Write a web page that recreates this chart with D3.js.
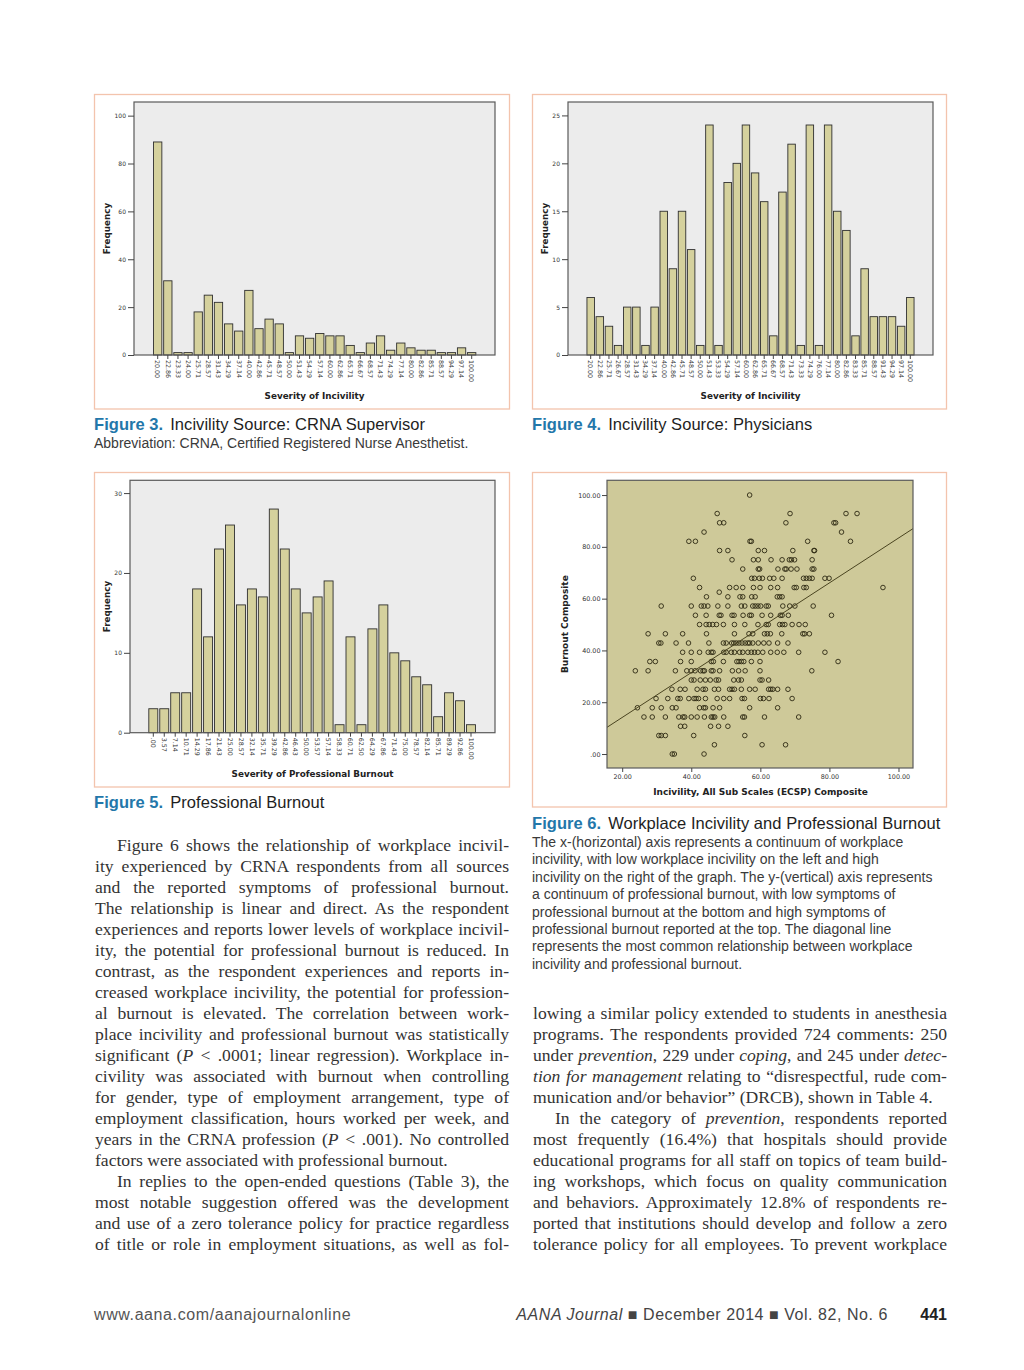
<!DOCTYPE html>
<html><head><meta charset="utf-8">
<script src="https://cdn.jsdelivr.net/npm/d3@7"></script>
<style>
body{margin:0;background:#fff;}
#page{position:relative;width:1024px;height:1370px;overflow:hidden;background:#fff;}
#page svg{position:absolute;left:0;top:0;}
.ln{position:absolute;font-family:"Liberation Serif","DejaVu Serif",serif;font-size:17.6px;line-height:21px;color:#333;text-align:justify;text-align-last:justify;}
.ln.last{text-align-last:left;}
</style></head>
<body><div id="page"></div>
<script>
// ---------------- DATA ----------------
const fig3Categories = ["20.00","22.86","23.33","24.00","25.71","28.57","31.43","34.29","37.14","40.00","42.86","45.71","48.57","50.00","51.43","54.29","57.14","60.00","62.86","65.71","66.67","68.57","71.43","74.29","77.14","80.00","82.86","85.71","88.57","94.29","97.14","100.00"];
const fig3Frequency = [89,31,1,1,18,25,22,13,10,27,11,15,13,1,8,7,9,8,8,4,1,5,8,2,5,3,2,2,1,1,3,1];
const fig3YTicks = [0,20,40,60,80,100];

const fig4Categories = ["20.00","22.86","25.71","26.67","28.57","31.43","34.29","37.14","40.00","42.86","45.71","48.57","50.00","51.43","53.33","54.29","57.14","60.00","62.86","65.71","66.67","68.57","71.43","73.33","74.29","76.00","77.14","80.00","82.86","83.33","85.71","88.57","91.43","94.29","97.14","100.00"];
const fig4Frequency = [6,4,3,1,5,5,1,5,15,9,15,11,1,24,1,18,20,24,19,16,2,17,22,1,24,1,24,15,13,2,9,4,4,4,3,6];
const fig4YTicks = [0,5,10,15,20,25];

const fig5Categories = [".00","3.57","7.14","10.71","14.29","17.86","21.43","25.00","28.57","32.14","35.71","39.29","42.86","46.43","50.00","53.57","57.14","58.33","60.71","62.50","64.29","67.86","71.43","75.00","78.57","82.14","85.71","89.29","92.86","100.00"];
const fig5Frequency = [3,3,5,5,18,12,23,26,16,18,17,28,23,18,15,17,19,1,12,1,13,16,10,9,7,6,2,5,4,1];
const fig5YTicks = [0,10,20,30];

// Figure 6 scatter: burnout composite levels and incivility composite values at each level
const burnoutLevels = [100,92.86,89.29,85.71,82.14,78.57,75,71.43,67.86,64.29,62.5,60.71,57.14,53.57,50,46.43,42.86,39.29,35.71,32.14,28.57,25,21.43,17.86,14.29,10.71,7.14,3.57,0];
const incivilityAtLevel = [
 [56.9],
 [47.5,68.6,84.8,88.0],
 [48.2,49.4,67.4,81.3,81.8],
 [43.7,83.5],
 [39.3,41.2,57.0,57.4,73.7,86.1],
 [48.2,50.6,59.4,61.2,69.4,75.5,75.7],
 [51.8,58.0,59.4,63.1,66.3,68.4,69.0,69.9,75.0],
 [54.9,59.4,59.8,65.1,67.1,67.5,68.9,70.6,75.0,75.5],
 [40.6,57.5,58.3,59.7,60.6,62.7,63.9,66.3,72.5,73.3,74.2,75.0,78.7,79.9],
 [42.4,51.1,53.0,54.9,58.0,59.9,63.0,65.0,69.8,70.4,72.6,73.3,95.5],
 [48.1],
 [44.4,50.6,54.1,54.9,57.5,58.5,64.9,65.6,66.3],
 [31.3,40.0,42.9,43.7,44.8,47.7,50.6,54.5,55.5,57.8,58.5,59.3,60.1,61.7,62.3,66.5,68.5,70.0,75.3],
 [41.2,44.3,48.1,48.6,51.8,52.4,55.0,56.9,57.4,60.5,63.0,65.8,66.3,68.1,80.6],
 [42.4,44.3,45.2,46.2,47.3,49.3,52.5,55.5,59.3,61.7,62.3,65.6,66.4,67.1,69.2,71.2,73.0],
 [27.5,32.5,37.5,44.4,52.5,56.7,57.8,61.2,62.0,62.9,66.2,72.3,72.8,74.2],
 [30.6,31.2,35.6,39.2,45.1,49.3,50.1,51.7,52.3,53.0,53.8,54.7,55.6,56.4,56.9,57.8,59.4,61.0,62.5,65.0,68.0],
 [37.5,40.0,42.4,44.9,45.8,46.3,49.4,50.1,51.6,52.5,54.0,54.9,56.4,57.4,58.3,59.3,60.7,63.0,64.9,66.8,71.1,78.7],
 [28.0,29.6,36.9,40.0,45.8,46.4,49.3,53.2,53.8,54.5,55.2,57.4,59.9,82.5],
 [23.8,27.5,35.4,38.7,40.0,41.1,42.7,43.4,43.8,45.8,46.3,48.2,51.9,53.7,55.6,59.9,74.9],
 [40.0,40.8,42.6,44.1,45.5,47.2,47.9,52.3,53.7,54.5,59.9,60.5,62.4],
 [34.4,36.8,38.2,41.7,43.4,44.1,46.7,47.9,51.1,51.8,52.5,54.5,56.9,58.5,62.4,63.0,63.6,65.0,68.0],
 [29.8,33.2,36.1,36.8,39.3,40.8,41.4,42.1,44.1,47.5,49.4,51.1,54.7,55.4,60.0,60.9,62.5,69.2],
 [24.4,28.7,31.3,34.5,35.6,42.4,43.6,44.1,46.3,48.2,56.9,65.0],
 [26.3,28.7,32.5,36.4,37.6,38.1,40.0,41.7,43.8,45.8,46.3,46.8,49.4,54.9,55.4,61.2,71.1],
 [36.9,38.1,45.6,47.9,50.6],
 [30.6,31.3,32.5,40.7,55.5],
 [46.7,60.5,67.3],
 [34.5,35.1,43.7]
];
const regressionIntercept = -3.2;
const regressionSlope = 0.866;
const fig6XTicks = [20,40,60,80,100];
const fig6YTicks = [0,20,40,60,80,100];

const leftColumnLines = [
 "Figure 6 shows the relationship of workplace incivil-",
 "ity experienced by CRNA respondents from all sources",
 "and the reported symptoms of professional burnout.",
 "The relationship is linear and direct. As the respondent",
 "experiences and reports lower levels of workplace incivil-",
 "ity, the potential for professional burnout is reduced. In",
 "contrast, as the respondent experiences and reports in-",
 "creased workplace incivility, the potential for profession-",
 "al burnout is elevated. The correlation between work-",
 "place incivility and professional burnout was statistically",
 "significant (<i>P</i> &lt; .0001; linear regression). Workplace in-",
 "civility was associated with burnout when controlling",
 "for gender, type of employment arrangement, type of",
 "employment classification, hours worked per week, and",
 "years in the CRNA profession (<i>P</i> &lt; .001). No controlled",
 "factors were associated with professional burnout.",
 "In replies to the open-ended questions (Table 3), the",
 "most notable suggestion offered was the development",
 "and use of a zero tolerance policy for practice regardless",
 "of title or role in employment situations, as well as fol-"
];
const leftIndent = [0,16];
const leftLast = [15];
const rightColumnLines = [
 "lowing a similar policy extended to students in anesthesia",
 "programs. The respondents provided 724 comments: 250",
 "under <i>prevention</i>, 229 under <i>coping</i>, and 245 under <i>detec-</i>",
 "<i>tion for management</i> relating to “disrespectful, rude com-",
 "munication and/or behavior” (DRCB), shown in Table 4.",
 "In the category of <i>prevention</i>, respondents reported",
 "most frequently (16.4%) that hospitals should provide",
 "educational programs for all staff on topics of team build-",
 "ing workshops, which focus on quality communication",
 "and behaviors. Approximately 12.8% of respondents re-",
 "ported that institutions should develop and follow a zero",
 "tolerance policy for all employees. To prevent workplace"
];
const rightIndent = [5];
const rightLast = [4];
const fig6CaptionLines = [
 "The x-(horizontal) axis represents a continuum of workplace",
 "incivility, with low workplace incivility on the left and high",
 "incivility on the right of the graph. The y-(vertical) axis represents",
 "a continuum of professional burnout, with low symptoms of",
 "professional burnout at the bottom and high symptoms of",
 "professional burnout reported at the top. The diagonal line",
 "represents the most common relationship between workplace",
 "incivility and professional burnout."
];

// ---------------- DRAW ----------------
const page = d3.select("#page");
const svg = page.append("svg").attr("width",1024).attr("height",1370);
const BORDER="#f3c4ad", TEAL="#2377aa";
const chartFont = "'DejaVu Sans',Verdana,sans-serif";
const sans = "'Liberation Sans',Arial,sans-serif";

function panel(x0,y0,x1,y1){
  svg.append("rect").attr("x",x0).attr("y",y0).attr("width",x1-x0).attr("height",y1-y0)
    .attr("fill","none").attr("stroke",BORDER).attr("stroke-width",1.3);
}

function barChart(cfg){
  const g = svg.append("g");
  const p = cfg.plot;
  g.append("rect").attr("x",p.l).attr("y",p.t).attr("width",p.r-p.l).attr("height",p.b-p.t)
    .attr("fill","#ececec");
  const n = cfg.cats.length;
  const step = (cfg.last-cfg.first)/(n-1);
  const pad = 0.18;
  const x = d3.scaleBand().domain(cfg.cats).range([cfg.first-step/2, cfg.last+step/2])
    .paddingInner(pad).paddingOuter(pad/2);
  const y = d3.scaleLinear().domain([0,cfg.ymax]).range([p.b,p.t]);
  g.selectAll("rect.bar").data(cfg.vals).join("rect").attr("class","bar")
    .attr("x",(d,i)=>x(cfg.cats[i])).attr("width",x.bandwidth())
    .attr("y",d=>y(d)).attr("height",d=>y(0)-y(d))
    .attr("fill","#d5d19d").attr("stroke","#2f2f2f").attr("stroke-width",0.9);
  g.append("rect").attr("x",p.l).attr("y",p.t).attr("width",p.r-p.l).attr("height",p.b-p.t)
    .attr("fill","none").attr("stroke","#5a5a5a").attr("stroke-width",1.2);
  const ya = g.append("g").attr("transform",`translate(${p.l},0)`)
    .call(d3.axisLeft(y).tickValues(cfg.yTicks).tickSize(6).tickPadding(2));
  ya.select(".domain").remove();
  ya.selectAll("line").attr("stroke","#444");
  ya.selectAll("text").attr("font-family",chartFont).attr("font-size",6).attr("fill","#333");
  const xa = g.append("g").attr("transform",`translate(0,${p.b})`)
    .call(d3.axisBottom(x).tickSize(4).tickSizeOuter(0));
  xa.select(".domain").remove();
  xa.selectAll("line").attr("stroke","#444");
  xa.selectAll("text").attr("font-family",chartFont).attr("font-size",6.3).attr("fill","#333")
    .attr("transform","rotate(90)").attr("text-anchor","start")
    .attr("x",5).attr("y",0).attr("dy","0.35em");
  g.append("text").attr("x",(p.l+p.r)/2).attr("y",cfg.xTitleY).attr("text-anchor","middle")
    .attr("font-family",chartFont).attr("font-weight","bold").attr("font-size",8.8).attr("fill","#222")
    .text(cfg.xTitle);
  g.append("text").attr("transform",`translate(${cfg.yTitleX},${(p.t+p.b)/2}) rotate(-90)`)
    .attr("text-anchor","middle").attr("dominant-baseline","central")
    .attr("font-family",chartFont).attr("font-weight","bold").attr("font-size",8.8).attr("fill","#222")
    .text("Frequency");
}

panel(94.5,94.5,509.5,409);
barChart({plot:{l:134,t:102,r:495,b:355},cats:fig3Categories,vals:fig3Frequency,ymax:105.7,
  yTicks:fig3YTicks,first:157.7,last:471.7,xTitle:"Severity of Incivility",xTitleY:399,yTitleX:106.7});
panel(532.5,94.5,946.5,409);
barChart({plot:{l:568,t:102,r:933,b:355},cats:fig4Categories,vals:fig4Frequency,ymax:26.4,
  yTicks:fig4YTicks,first:590.7,last:910.3,xTitle:"Severity of Incivility",xTitleY:399,yTitleX:544.7});
panel(94.5,472.5,509.5,787);
barChart({plot:{l:130,t:480.3,r:495,b:732.7},cats:fig5Categories,vals:fig5Frequency,ymax:31.6,
  yTicks:fig5YTicks,first:153.3,last:471,xTitle:"Severity of Professional Burnout",xTitleY:776.5,yTitleX:106.7});

// Figure 6 scatter
panel(532.5,472.5,946.5,807);
(function(){
  const p = {l:607,t:480.3,r:913,b:768};
  const g = svg.append("g");
  const x = d3.scaleLinear().domain([15.6,104.2]).range([p.l,p.r]);
  const y = d3.scaleLinear().domain([-5.4,105.7]).range([p.b,p.t]);
  g.append("rect").attr("x",p.l).attr("y",p.t).attr("width",p.r-p.l).attr("height",p.b-p.t)
    .attr("fill","#cec999");
  const pts = [];
  burnoutLevels.forEach((b,i)=>incivilityAtLevel[i].forEach(v=>pts.push([v,b])));
  g.selectAll("circle").data(pts).join("circle")
    .attr("cx",d=>x(d[0])).attr("cy",d=>y(d[1])).attr("r",2.3)
    .attr("fill","none").attr("stroke","#2c2812").attr("stroke-width",0.9);
  const dom = x.domain();
  g.append("line").attr("x1",x(dom[0])).attr("y1",y(regressionIntercept+regressionSlope*dom[0]))
    .attr("x2",x(dom[1])).attr("y2",y(regressionIntercept+regressionSlope*dom[1]))
    .attr("stroke","#4a4420").attr("stroke-width",1);
  g.append("rect").attr("x",p.l).attr("y",p.t).attr("width",p.r-p.l).attr("height",p.b-p.t)
    .attr("fill","none").attr("stroke","#5a5a5a").attr("stroke-width",1.2);
  const fmt = v => v===0 ? ".00" : v.toFixed(2);
  const ya = g.append("g").attr("transform",`translate(${p.l},0)`)
    .call(d3.axisLeft(y).tickValues(fig6YTicks).tickFormat(fmt).tickSize(5).tickPadding(1.5));
  ya.select(".domain").remove();
  ya.selectAll("line").attr("stroke","#444");
  ya.selectAll("text").attr("font-family",chartFont).attr("font-size",6.4).attr("fill","#333");
  const xa = g.append("g").attr("transform",`translate(0,${p.b})`)
    .call(d3.axisBottom(x).tickValues(fig6XTicks).tickFormat(fmt).tickSize(4).tickPadding(2));
  xa.select(".domain").remove();
  xa.selectAll("line").attr("stroke","#444");
  xa.selectAll("text").attr("font-family",chartFont).attr("font-size",6.4).attr("fill","#333");
  g.append("text").attr("x",760.5).attr("y",795).attr("text-anchor","middle")
    .attr("font-family",chartFont).attr("font-weight","bold").attr("font-size",9).attr("fill","#222")
    .text("Incivility, All Sub Scales (ECSP) Composite");
  g.append("text").attr("transform",`translate(565,${(p.t+p.b)/2}) rotate(-90)`)
    .attr("text-anchor","middle").attr("dominant-baseline","central")
    .attr("font-family",chartFont).attr("font-weight","bold").attr("font-size",9).attr("fill","#222")
    .text("Burnout Composite");
})();

// Captions
function caption(xp,yp,num,title){
  const t = svg.append("text").attr("x",xp).attr("y",yp)
    .attr("font-family",sans).attr("font-size",16.5).attr("fill","#1e1e1e").attr("letter-spacing",0.05);
  t.append("tspan").attr("font-weight","bold").attr("fill",TEAL).text(num);
  t.append("tspan").attr("dx",7).text(title);
}
caption(94,430,"Figure 3.","Incivility Source: CRNA Supervisor");
svg.append("text").attr("x",94).attr("y",447.5).attr("font-family",sans)
  .attr("font-size",14).attr("fill","#3a3a3a").text("Abbreviation: CRNA, Certified Registered Nurse Anesthetist.");
caption(532,430,"Figure 4.","Incivility Source: Physicians");
caption(94,808,"Figure 5.","Professional Burnout");
caption(532,829,"Figure 6.","Workplace Incivility and Professional Burnout");
fig6CaptionLines.forEach((s,i)=>{
  svg.append("text").attr("x",532).attr("y",847+i*17.4)
    .attr("font-family",sans).attr("font-size",14).attr("fill","#3a3a3a").text(s);
});

// Footer
svg.append("text").attr("x",94).attr("y",1319.5).attr("font-family",sans)
  .attr("font-size",16).attr("fill","#555").attr("letter-spacing",0.6).text("www.aana.com/aanajournalonline");
const ft = svg.append("text").attr("x",888).attr("y",1319.5).attr("text-anchor","end")
  .attr("font-family",sans).attr("font-size",16).attr("fill","#444").attr("letter-spacing",0.55);
ft.append("tspan").attr("font-style","italic").text("AANA Journal");
ft.append("tspan").text(" ■ December 2014 ■ Vol. 82, No. 6");
svg.append("text").attr("x",947).attr("y",1319.5).attr("text-anchor","end")
  .attr("font-family",sans).attr("font-size",16).attr("font-weight","bold")
  .attr("fill","#222").text("441");

// Body text columns
function column(lines,x0,center0,indents,lasts){
  lines.forEach((s,i)=>{
    const ind = indents.includes(i) ? 22 : 0;
    const d = page.append("div").attr("class","ln"+(lasts.includes(i)?" last":""))
      .style("left",(x0+ind)+"px").style("top",(center0+i*21-10.5)+"px")
      .style("width",(414-ind)+"px").html(s);
    const node = d.node();
    let ws = 0;
    while(node.getBoundingClientRect().height > 30 && ws > -8){ ws -= 0.5; d.style("word-spacing",ws+"px"); }
  });
}
column(leftColumnLines,95,845,leftIndent,leftLast);
column(rightColumnLines,533,1013,rightIndent,rightLast);
</script></body></html>
